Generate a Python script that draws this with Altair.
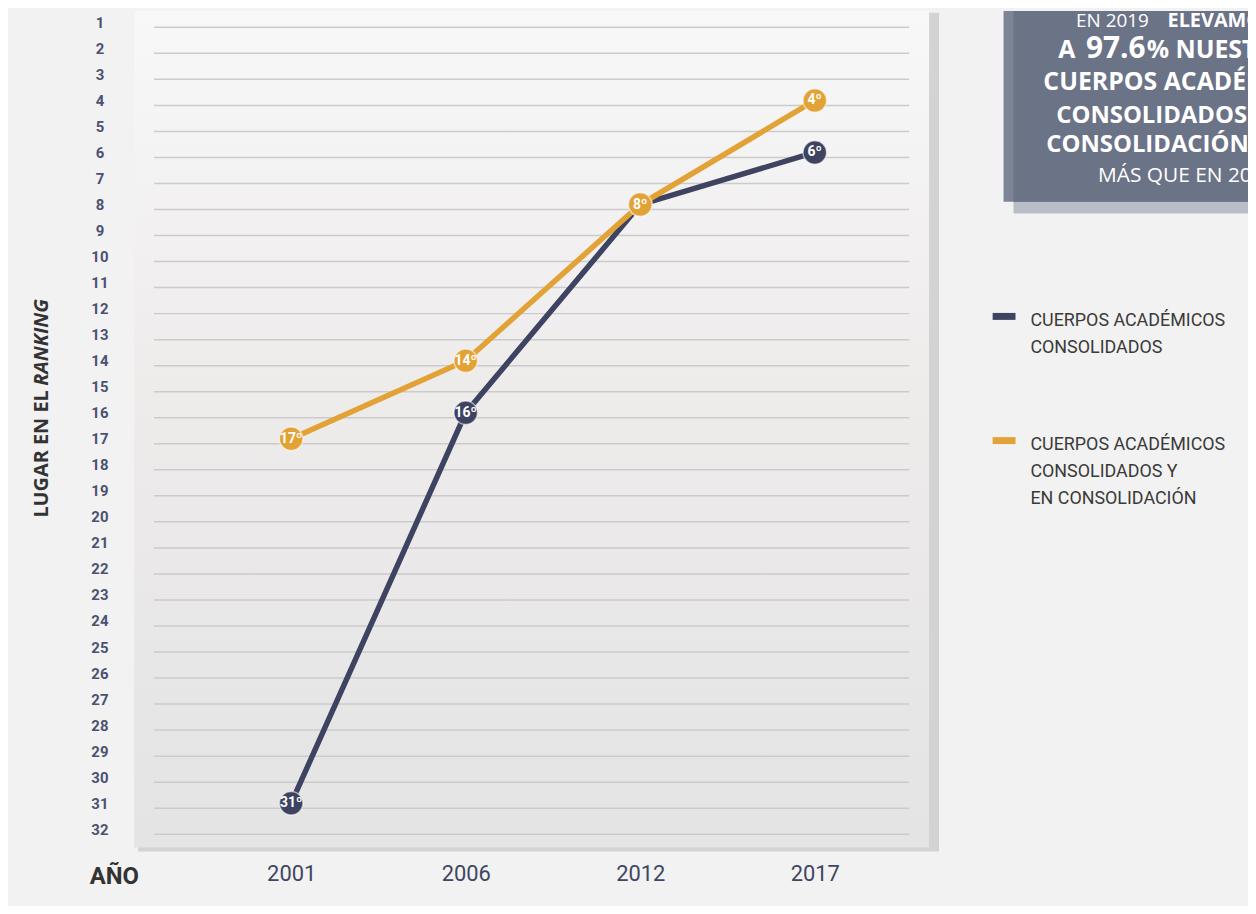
import altair as alt
import pandas as pd

# ---------------- data ----------------
years = ["2001", "2006", "2012", "2017"]
ranks_all = list(range(1, 33))
series_names = [
    "CUERPOS ACADÉMICOS CONSOLIDADOS",
    "CUERPOS ACADÉMICOS CONSOLIDADOS Y EN CONSOLIDACIÓN",
]
consolidados = [31, 16, 8, 6]
consolidados_y_en = [17, 14, 8, 4]
series_values = [consolidados, consolidados_y_en]
series_colors = ["#3d4361", "#e2a236"]
legend_labels = [
    "CUERPOS ACADÉMICOS\nCONSOLIDADOS",
    "CUERPOS ACADÉMICOS\nCONSOLIDADOS Y\nEN CONSOLIDACIÓN",
]
y_title_main = "LUGAR EN EL "
y_title_italic = "RANKING"
x_title = "AÑO"

# callout box text pieces
box_l1_reg = "EN 2019 "
box_l1_bold = "ELEVAMOS"
box_l2_a = "A"
box_l2_num = "97.6"
box_l2_rest = "% NUESTROS"
box_l3 = "CUERPOS ACADÉMICOS"
box_l4 = "CONSOLIDADOS Y EN"
box_l5 = "CONSOLIDACIÓN,"
box_l6 = "MÁS QUE EN 2018"

# ---------------- build tables ----------------
rows = []
for name, vals in zip(series_names, series_values):
    for yr, v in zip(years, vals):
        rows.append({"year": yr, "rank": v, "serie": name, "label": f"{v}º"})
df = pd.DataFrame(rows)
grid_df = pd.DataFrame({"rank": ranks_all})
one = pd.DataFrame({"k": [0]})

W, H = 800, 842
NARROW = "Roboto, Liberation Sans Narrow, sans-serif"
SANS = "Open Sans, Noto Sans, sans-serif"

yscale = alt.Scale(domain=[0.56, 32.70], reverse=True, nice=False, zero=False)
xscale = alt.Scale(domain=years, range=[158, 685], padding=0)

yaxis = alt.Axis(
    values=ranks_all, format="d", title=None, domain=False, ticks=False, grid=False,
    labelAlign="center", labelPadding=35, labelFont=NARROW, labelFontSize=15,
    labelFontWeight="bold", labelColor="#4b5170", labelBaseline="middle",
)
xaxis = alt.Axis(
    title=None, domain=False, ticks=False, grid=False, labelAngle=0,
    labelPadding=26, labelFont=NARROW, labelFontSize=22, labelColor="#3e4660",
    labelBaseline="middle",
)

layers = []

# panel shadow and panel
layers.append(
    alt.Chart(one).mark_rect(color="#d3d3d3").encode(
        x=alt.value(4), x2=alt.value(810), y=alt.value(2), y2=alt.value(846)
    )
)
panel_grad = alt.LinearGradient(
    gradient="linear",
    stops=[
        alt.GradientStop(offset=0, color="#f8f8f8"),
        alt.GradientStop(offset=0.45, color="#eeebeb"),
        alt.GradientStop(offset=1, color="#e4e4e4"),
    ],
    x1=0, x2=0, y1=0, y2=1,
)
layers.append(
    alt.Chart(one).mark_rect(color=panel_grad).encode(
        x=alt.value(0), x2=alt.value(W), y=alt.value(0), y2=alt.value(H)
    )
)

# gridlines
layers.append(
    alt.Chart(grid_df).mark_rule(color="#cbcbcb", strokeWidth=1.5, yOffset=5).encode(
        y=alt.Y("rank:Q", scale=yscale, axis=yaxis),
        x=alt.value(20), x2=alt.value(780),
    )
)

# series
for name, col in zip(series_names, series_colors):
    base = alt.Chart(df).transform_filter(alt.datum.serie == name)
    enc = dict(
        x=alt.X("year:O", scale=xscale, axis=xaxis),
        y=alt.Y("rank:Q", scale=yscale, axis=yaxis),
    )
    layers.append(base.mark_line(color=col, strokeWidth=5.5).encode(**enc))
    layers.append(
        base.mark_circle(color=col, size=560, opacity=1, stroke="#ffffff",
                         strokeWidth=1.5, strokeOpacity=0.55).encode(**enc)
    )
    layers.append(
        base.mark_text(font=NARROW, fontSize=14, fontWeight="bold", color="white",
                       baseline="middle", align="center").encode(text="label:N", **enc)
    )

# y axis title (mixed style)
layers.append(
    alt.Chart(one).mark_text(font=SANS, fontSize=20, fontWeight="bold", color="#333333",
                             angle=270, align="left", baseline="middle").encode(
        x=alt.value(-93), y=alt.value(510), text=alt.value(y_title_main)
    )
)
layers.append(
    alt.Chart(one).mark_text(font=SANS, fontSize=20, fontWeight="bold", fontStyle="italic",
                             color="#333333", angle=270, align="right",
                             baseline="middle").encode(
        x=alt.value(-93), y=alt.value(290), text=alt.value(y_title_italic)
    )
)

# x axis title
layers.append(
    alt.Chart(one).mark_text(font=NARROW, fontSize=24, fontWeight="bold", color="#333333",
                             align="center", baseline="middle").encode(
        x=alt.value(-20), y=alt.value(872), text=alt.value(x_title)
    )
)

# legend (manual)
leg_y = [[304, 312], [429, 437]]
for (sy, ty), lab, col in zip(leg_y, legend_labels, series_colors):
    layers.append(
        alt.Chart(one).mark_rect(color=col).encode(
            x=alt.value(864), x2=alt.value(887), y=alt.value(sy), y2=alt.value(sy + 7)
        )
    )
    layers.append(
        alt.Chart(one).mark_text(font=NARROW, fontSize=18, color="#3a3a3a", align="left",
                                 baseline="middle", lineBreak="\n", lineHeight=27).encode(
            x=alt.value(902), y=alt.value(ty), text=alt.value(lab)
        )
    )

# callout box
layers.append(alt.Chart(one).mark_rect(color="#b9bdc7").encode(
    x=alt.value(885), x2=alt.value(1200), y=alt.value(190), y2=alt.value(204)))
layers.append(alt.Chart(one).mark_rect(color="#7c8496").encode(
    x=alt.value(875), x2=alt.value(1200), y=alt.value(0), y2=alt.value(192)))
layers.append(alt.Chart(one).mark_rect(color="#6b7387").encode(
    x=alt.value(885), x2=alt.value(1200), y=alt.value(0), y2=alt.value(192)))

def box_text(txt, x, y, size, weight="bold"):
    return alt.Chart(one).mark_text(font=SANS, fontSize=size, fontWeight=weight,
                                    color="white", align="left",
                                    baseline="alphabetic").encode(
        x=alt.value(x), y=alt.value(y), text=alt.value(txt))

layers += [
    box_text(box_l1_reg, 948, 16, 19, "normal"),
    box_text(box_l1_bold, 1040, 16, 20),
    box_text(box_l2_a, 930, 47, 25),
    box_text(box_l2_num, 958, 47, 30),
    box_text(box_l2_rest, 1019, 47, 25),
    box_text(box_l3, 915, 80, 25),
    box_text(box_l4, 928, 113, 24),
    box_text(box_l5, 918, 142, 24),
    box_text(box_l6, 970, 172, 21, "normal"),
]

chart = alt.layer(*layers).properties(
    width=W, height=H,
    padding={"left": 127, "top": 0, "right": 321, "bottom": 56},
    autosize="none",
    background="#f2f2f2",
).configure_view(stroke=None)

chart.save("out.html", embed_options={"renderer": "svg", "actions": False})
